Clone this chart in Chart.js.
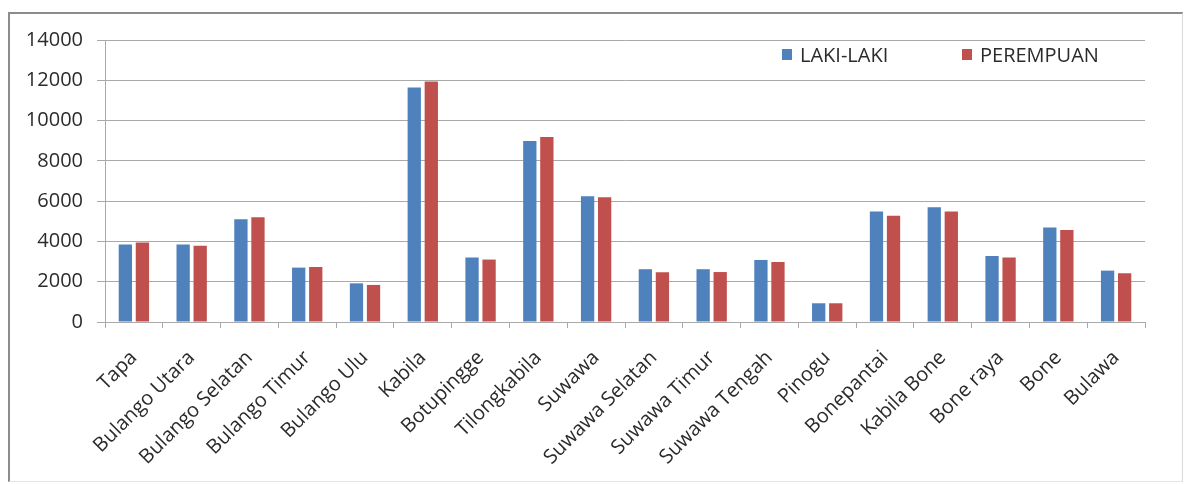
<!DOCTYPE html>
<html>
<head>
<meta charset="utf-8">
<script src="https://cdn.jsdelivr.net/npm/chart.js@4.4.1/dist/chart.umd.min.js"></script>
<style>
  html, body { margin:0; padding:0; background:#fff; }
  #wrap { position:relative; width:1186px; height:485px; overflow:hidden; }
  #frame {
    position:absolute; left:8px; top:12px; width:1175px; height:470px;
    border-top:2px solid #8c8c8c; border-left:2px solid #8c8c8c;
    border-right:1px solid #d9d9d9; border-bottom:1px solid #e6e6e6;
    box-sizing:border-box;
  }
  #chart { position:absolute; left:0; top:0; }
  .legend .item {
    position:absolute; top:41px; display:flex; align-items:center;
    font-family:"Open Sans", sans-serif; font-size:20px; color:#2b2b2b;
  }
  .legend .sw { width:10px; height:11px; margin-right:8px; }
</style>
</head>
<body>
<div id="wrap">
  <div id="frame"></div>
  <canvas id="chart" width="1186" height="485"></canvas>
  <div class="legend" id="legend"></div>
</div>
<script>
// kecamatan
const categories = [
  'Tapa', 'Bulango Utara', 'Bulango Selatan', 'Bulango Timur', 'Bulango Ulu',
  'Kabila', 'Botupingge', 'Tilongkabila', 'Suwawa', 'Suwawa Selatan',
  'Suwawa Timur', 'Suwawa Tengah', 'Pinogu', 'Bonepantai', 'Kabila Bone',
  'Bone raya', 'Bone', 'Bulawa'
];
const lakiLaki = [
  3850, 3850, 5100, 2700, 1920,
  11640, 3200, 8990, 6240, 2620,
  2620, 3080, 930, 5480, 5700,
  3280, 4690, 2550
];
const perempuan = [
  3950, 3790, 5200, 2730, 1840,
  11940, 3100, 9190, 6190, 2470,
  2480, 2980, 930, 5280, 5480,
  3200, 4570, 2420
];
const yTicks = { min:0, max:14000, step:2000 };

const seriesNames = ['LAKI-LAKI', 'PEREMPUAN'];
const seriesColors = ['#4F81BD', '#C0504D'];
const legendLeft = [782, 962];

const FONT = '"Open Sans", sans-serif';
const TEXT = '#2b2b2b';
const GRID = '#a9a9a9';

const ctx = document.getElementById('chart').getContext('2d');
const chart = new Chart(ctx, {
  type:'bar',
  data:{
    labels: categories,
    datasets:[
      { label:seriesNames[0], data:lakiLaki, backgroundColor:seriesColors[0] },
      { label:seriesNames[1], data:perempuan, backgroundColor:seriesColors[1] }
    ]
  },
  options:{
    responsive:false,
    animation:false,
    devicePixelRatio:1,
    layout:{ padding:{ top:40, right:41, left:0, bottom:0 } },
    categoryPercentage:0.59,
    barPercentage:0.78,
    plugins:{ legend:{ display:false }, tooltip:{ enabled:false } },
    scales:{
      x:{
        grid:{ drawOnChartArea:false, drawTicks:true, tickLength:6, color:GRID, offset:true },
        border:{ display:true, color:GRID },
        ticks:{
          color:TEXT, font:{ family:FONT, size:20 },
          minRotation:45, maxRotation:45, autoSkip:false, padding:18
        },
        afterFit(scale){ scale.height = 163; }
      },
      y:{
        min:yTicks.min, max:yTicks.max,
        grid:{ color:GRID, tickLength:8 },
        border:{ display:true, color:GRID },
        ticks:{
          stepSize:yTicks.step, color:TEXT, font:{ family:FONT, size:20 }, padding:14,
          callback:v => String(v)
        },
        afterFit(scale){ scale.width = 105; }
      }
    }
  }
});

// legend as html over the chart area
const legend = document.getElementById('legend');
seriesNames.forEach((name, i) => {
  const item = document.createElement('div');
  item.className = 'item';
  item.style.left = legendLeft[i] + 'px';
  item.innerHTML = `<span class="sw" style="background:${seriesColors[i]}"></span><span>${name}</span>`;
  legend.appendChild(item);
});
</script>
</body>
</html>
